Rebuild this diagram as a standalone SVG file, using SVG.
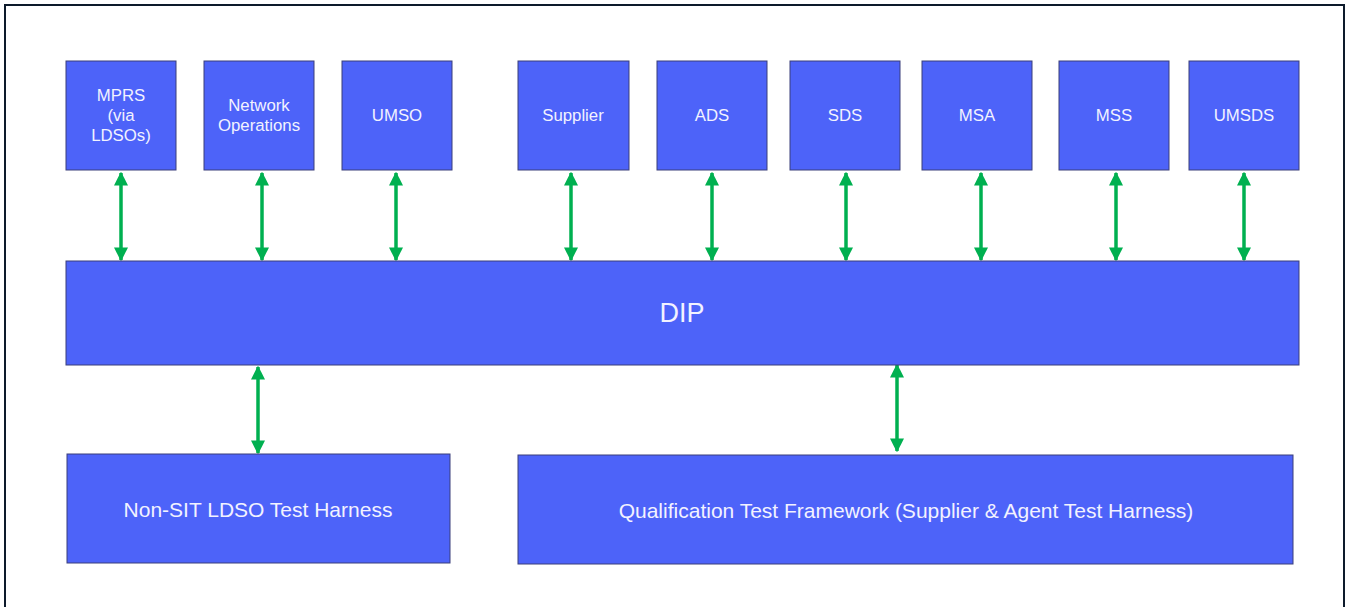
<svg xmlns="http://www.w3.org/2000/svg" width="1347" height="607" viewBox="0 0 1347 607">
<defs>
<style>
.box{fill:#4d63f9;stroke:#3b3f7a;stroke-width:1}
.t{fill:#f2f2ff;font-family:"Liberation Sans",Arial,sans-serif;font-size:16.8px;text-anchor:middle;dominant-baseline:central}
.big{font-size:27px}
.mid{font-size:21px}
.c{stroke:#00b050;stroke-width:3.5;fill:none;marker-start:url(#a);marker-end:url(#a)}
</style>
<marker id="a" viewBox="0 0 10 10" refX="9" refY="5" markerWidth="4" markerHeight="4" orient="auto-start-reverse" markerUnits="strokeWidth">
<path d="M0,0 L10,5 L0,10 z" fill="#00b050"/>
</marker>
</defs>
<rect x="0" y="0" width="1347" height="607" fill="#fff"/>
<rect x="5" y="5" width="1339" height="604" fill="#fff" stroke="#0d1a2b" stroke-width="2"/>
<g id="connectors">
<line class="c" x1="121" y1="173" x2="121" y2="260"/>
<line class="c" x1="262" y1="173" x2="262" y2="260"/>
<line class="c" x1="396" y1="173" x2="396" y2="260"/>
<line class="c" x1="571" y1="173" x2="571" y2="260"/>
<line class="c" x1="712" y1="173" x2="712" y2="260"/>
<line class="c" x1="846" y1="173" x2="846" y2="260"/>
<line class="c" x1="981" y1="173" x2="981" y2="260"/>
<line class="c" x1="1116" y1="173" x2="1116" y2="260"/>
<line class="c" x1="1244" y1="173" x2="1244" y2="260"/>
<line class="c" x1="258" y1="367" x2="258" y2="453"/>
<line class="c" x1="897" y1="365" x2="897" y2="451"/>
</g>
<g id="mprs"><rect class="box" x="66" y="61" width="110" height="109"/><text class="t" x="121" y="95">MPRS</text><text class="t" x="121" y="115">(via</text><text class="t" x="121" y="135">LDSOs)</text></g>
<g id="netops"><rect class="box" x="204" y="61" width="110" height="109"/><text class="t" x="259" y="105">Network</text><text class="t" x="259" y="125">Operations</text></g>
<g id="umso"><rect class="box" x="342" y="61" width="110" height="109"/><text class="t" x="397" y="115">UMSO</text></g>
<g id="supplier"><rect class="box" x="518" y="61" width="111" height="109"/><text class="t" x="573" y="115">Supplier</text></g>
<g id="ads"><rect class="box" x="657" y="61" width="110" height="109"/><text class="t" x="712" y="115">ADS</text></g>
<g id="sds"><rect class="box" x="790" y="61" width="110" height="109"/><text class="t" x="845" y="115">SDS</text></g>
<g id="msa"><rect class="box" x="922" y="61" width="110" height="109"/><text class="t" x="977" y="115">MSA</text></g>
<g id="mss"><rect class="box" x="1059" y="61" width="110" height="109"/><text class="t" x="1114" y="115">MSS</text></g>
<g id="umsds"><rect class="box" x="1189" y="61" width="110" height="109"/><text class="t" x="1244" y="115">UMSDS</text></g>
<g id="dip"><rect class="box" x="66" y="261" width="1233" height="104"/><text class="t big" x="682" y="313">DIP</text></g>
<g id="nonsit"><rect class="box" x="67" y="454" width="383" height="109"/><text class="t mid" x="258" y="509">Non-SIT LDSO Test Harness</text></g>
<g id="qtf"><rect class="box" x="518" y="455" width="775" height="109"/><text class="t mid" x="906" y="510">Qualification Test Framework (Supplier &amp; Agent Test Harness)</text></g>
</svg>
